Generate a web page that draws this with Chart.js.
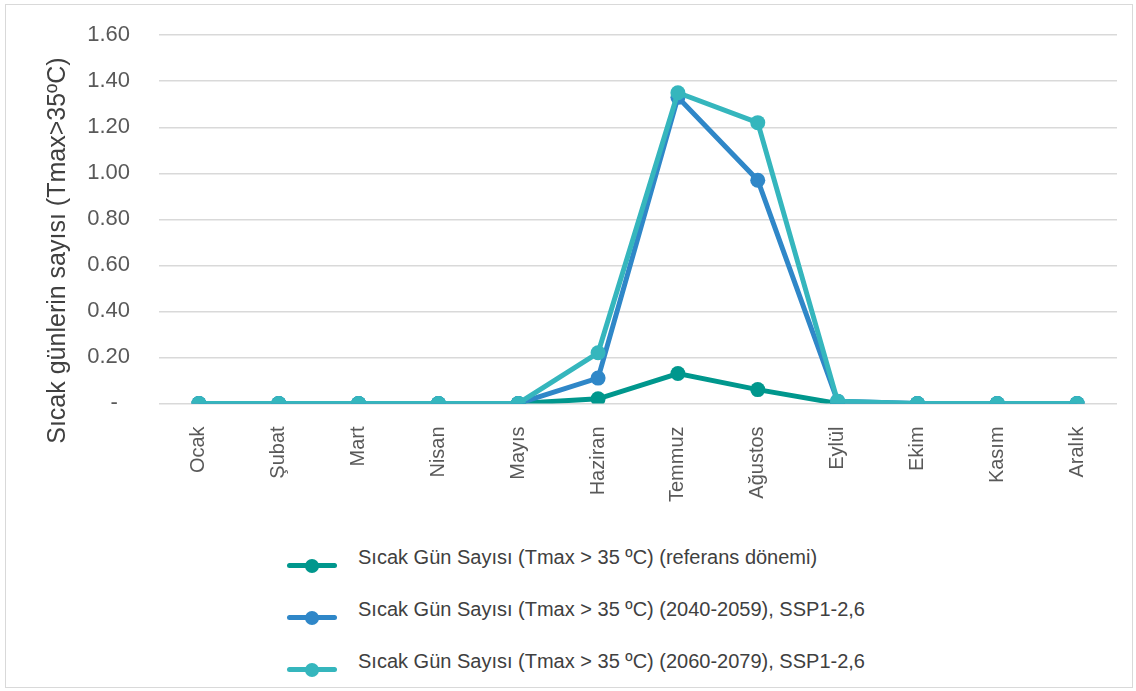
<!DOCTYPE html>
<html>
<head>
<meta charset="utf-8">
<script src="https://cdn.jsdelivr.net/npm/chart.js@4"></script>
<style>
    body { margin: 0; background: #fff; font-family: "Liberation Sans", Arial, sans-serif; }
    #frame { position: absolute; left: 5px; top: 4px; width: 1126px; height: 682px; border: 1.5px solid #d9d9d9; }
    #wrap { position: absolute; left: 0; top: -7px; width: 1136px; height: 535px; }
    #legend { position: absolute; left: 287px; top: 546px; }
    .item { position: relative; height: 52px; }
    .mark { position: absolute; left: 0; top: 17px; width: 50px; height: 5px; border-radius: 2.5px; }
    .mark span { position: absolute; left: 18px; top: -4.5px; width: 14px; height: 14px; border-radius: 50%; }
    .txt { position: absolute; left: 71px; top: 0; font-size: 20px; color: #404040; white-space: nowrap; }
</style>
</head>
<body>
<div id="frame"></div>
<div id="wrap"><canvas id="grafico"></canvas></div>
<div id="legend"></div>
<script>
// datos del grafico
var meses = ["Ocak", "Şubat", "Mart", "Nisan", "Mayıs", "Haziran", "Temmuz", "Ağustos", "Eylül", "Ekim", "Kasım", "Aralık"];
var referans = [0, 0, 0, 0, 0, 0.02, 0.13, 0.06, 0, 0, 0, 0];
var ssp2040 = [0, 0, 0, 0, 0, 0.11, 1.33, 0.97, 0.01, 0, 0, 0];
var ssp2060 = [0, 0, 0, 0, 0, 0.22, 1.35, 1.22, 0.01, 0, 0, 0];
var etiquetas = ["Sıcak Gün Sayısı (Tmax > 35 ºC) (referans dönemi)",
    "Sıcak Gün Sayısı (Tmax > 35 ºC) (2040-2059), SSP1-2,6",
    "Sıcak Gün Sayısı (Tmax > 35 ºC) (2060-2079), SSP1-2,6"];
var colores = ["#00978d", "#2f87c8", "#35b6bd"];

function serie(i, datos, orden) {
    return {
        label: etiquetas[i],
        data: datos,
        borderColor: colores[i],
        backgroundColor: colores[i],
        borderWidth: 5,
        pointRadius: 7.5,
        pointHoverRadius: 8,
        pointBorderWidth: 0,
        order: orden,
        tension: 0
    };
}

var canvas = document.getElementById('grafico').getContext("2d");
var grafico = new Chart(canvas, {
    type: "line",
    data: {
        labels: meses,
        datasets: [serie(0, referans, 2), serie(1, ssp2040, 1), serie(2, ssp2060, 0)]
    },
    options: {
        responsive: true,
        maintainAspectRatio: false,
        animation: false,
        layout: { padding: { top: 15, right: 19, left: 19, bottom: 11 } },
        plugins: {
            legend: { display: false },
            tooltip: { enabled: false }
        },
        scales: {
            x: {
                offset: true,
                grid: { display: false },
                border: { display: false },
                ticks: {
                    maxRotation: 90,
                    minRotation: 90,
                    padding: 15,
                    color: "#595959",
                    font: { family: "Liberation Sans", size: 20 }
                }
            },
            y: {
                min: 0,
                max: 1.6,
                afterFit: function(s) { s.width = 140; },
                grid: { color: "#d9d9d9", lineWidth: 1.5, drawTicks: false },
                border: { display: false },
                ticks: {
                    stepSize: 0.2,
                    padding: 29,
                    color: "#595959",
                    font: { family: "Liberation Sans", size: 22 },
                    callback: function(v) { return v === 0 ? "-  " : v.toFixed(2); }
                },
                title: {
                    display: true,
                    text: "Sıcak günlerin sayısı (Tmax>35ºC)         ",
                    color: "#404040",
                    padding: { top: 24, bottom: 0 },
                    font: { family: "Liberation Sans", size: 25 }
                }
            }
        }
    }
});

// leyenda en html
var ley = document.getElementById('legend');
for (var i = 0; i < etiquetas.length; i++) {
    ley.innerHTML += '<div class="item"><div class="mark" style="background:' + colores[i] + '"><span style="background:' + colores[i] + '"></span></div><div class="txt">' + etiquetas[i] + '</div></div>';
}
</script>
</body>
</html>
